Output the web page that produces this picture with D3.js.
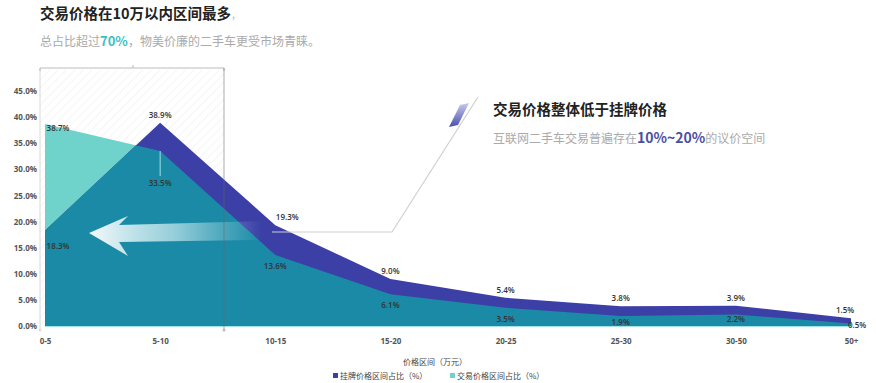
<!DOCTYPE html>
<html><head><meta charset="utf-8">
<script src="https://cdn.jsdelivr.net/npm/d3@7/dist/d3.min.js"></script>
<style>
html,body{margin:0;padding:0;background:#fff;}
svg{display:block;font-family:"Noto Sans CJK SC","Noto Sans",sans-serif;}
</style></head>
<body>
<svg id="c" width="876" height="383"></svg>
<script>
const categories = ["0-5","5-10","10-15","15-20","20-25","25-30","30-50","50+"];
const listingPct = [18.3, 38.9, 19.3, 9.0, 5.4, 3.8, 3.9, 1.5];
const dealPct    = [38.7, 33.5, 13.6, 6.1, 3.5, 1.9, 2.2, 0.5];
const yTicks = [0,5,10,15,20,25,30,35,40,45];
const seriesNames = ["挂牌价格区间占比（%）","交易价格区间占比（%）"];
const xAxisTitle = "价格区间（万元）";

const C_LIST = "#3b3fa6", C_DEAL = "#6fd3cb", C_OVER = "#1b8aa7";

const svg = d3.select("#c");
const defs = svg.append("defs");

const x = d3.scalePoint().domain(categories).range([45, 851]);
const y = d3.scaleLinear().domain([0,45]).range([326, 91]);

// hatch pattern
const pat = defs.append("pattern").attr("id","hatch").attr("patternUnits","userSpaceOnUse")
  .attr("width",6).attr("height",6).attr("patternTransform","rotate(45)");
pat.append("line").attr("x1",0).attr("y1",0).attr("x2",0).attr("y2",6).attr("stroke","#ececec").attr("stroke-width",1);

// gradients
const gArrow = defs.append("linearGradient").attr("id","gArrow").attr("x1","0").attr("x2","1").attr("y1","0").attr("y2","0");
gArrow.append("stop").attr("offset","0").attr("stop-color","#ffffff").attr("stop-opacity",0.95);
gArrow.append("stop").attr("offset","0.5").attr("stop-color","#d6f2f4").attr("stop-opacity",0.65);
gArrow.append("stop").attr("offset","1").attr("stop-color","#bfeaf0").attr("stop-opacity",0);

const gLine = defs.append("linearGradient").attr("id","gLine").attr("x1","0").attr("x2","1");
gLine.append("stop").attr("offset","0").attr("stop-color","#e6e6e6").attr("stop-opacity",0.2);
gLine.append("stop").attr("offset","0.5").attr("stop-color","#dcdcdc").attr("stop-opacity",1);
gLine.append("stop").attr("offset","1").attr("stop-color","#e6e6e6").attr("stop-opacity",0.6);

const gPara = defs.append("linearGradient").attr("id","gPara").attr("x1","0").attr("x2","0").attr("y1","0").attr("y2","1");
gPara.append("stop").attr("offset","0").attr("stop-color","#c9cbea");
gPara.append("stop").attr("offset","1").attr("stop-color","#4a4fb0");

// hatched highlight region 0-10
svg.append("rect").attr("x",40).attr("y",70).attr("width",184).attr("height",256).attr("fill","url(#hatch)");

// areas
const areaL = d3.area().x((d,i)=>x(categories[i])).y0(y(0)).y1(d=>y(d));
svg.append("path").datum(dealPct).attr("d",areaL).attr("fill",C_DEAL);
svg.append("path").datum(listingPct).attr("d",areaL).attr("fill",C_LIST);
defs.append("clipPath").attr("id","clipList").append("path").datum(listingPct).attr("d",areaL);
svg.append("path").datum(dealPct).attr("d",areaL).attr("fill",C_OVER).attr("clip-path","url(#clipList)");
// baseline
svg.append("line").attr("x1",x(categories[0])).attr("x2",x(categories[categories.length-1]))
  .attr("y1",y(0)+0.5).attr("y2",y(0)+0.5).attr("stroke","#9fe3e6").attr("stroke-width",1);

// arrow
svg.append("path").attr("d","M89,233 L128,216 L119,225 L262,221 L262,240 L119,242 L128,256 Z")
  .attr("fill","url(#gArrow)");

// y axis
const yAxis = svg.append("g").attr("transform","translate(40,0)")
  .call(d3.axisLeft(y).tickValues(yTicks).tickSize(0).tickPadding(3).tickFormat(d=>d.toFixed(1)+"%"));
yAxis.select(".domain").remove();
yAxis.selectAll("text").attr("font-size",8).attr("font-weight","bold").attr("fill","#555").attr("font-family","'Open Sans',sans-serif");
svg.append("line").attr("x1",40).attr("x2",40).attr("y1",68).attr("y2",330).attr("stroke","#d8d8d8");

// bracket
svg.append("path").attr("d","M40,71 L40,68 L224,68 L224,71").attr("fill","none").attr("stroke","#bbb");
svg.append("line").attr("x1",133).attr("x2",133).attr("y1",65).attr("y2",68).attr("stroke","#bbb");
svg.append("line").attr("x1",224).attr("x2",224).attr("y1",68).attr("y2",330).attr("stroke","#666").attr("stroke-opacity",0.55);
svg.append("circle").attr("cx",224).attr("cy",330).attr("r",1.5).attr("fill","#bbb");
svg.append("circle").attr("cx",40).attr("cy",330).attr("r",1.5).attr("fill","#ddd");

// x axis
const xAxis = svg.append("g").attr("transform","translate(0,335)")
  .call(d3.axisBottom(x).tickSize(0).tickPadding(3));
xAxis.select(".domain").remove();
xAxis.selectAll("text").attr("font-size",8).attr("font-weight","bold").attr("fill","#555").attr("font-family","'Open Sans',sans-serif");

// data labels
const lblStyle = s => s.attr("font-size",8).attr("font-weight",600).attr("fill","#333").attr("text-anchor","middle").attr("font-family","'Open Sans',sans-serif");
const last = categories.length-1;
listingPct.forEach((v,i)=>{
  const below = v < dealPct[i];
  svg.append("text").attr("x",x(categories[i]) + (i===0?13:(i===last?-6:(i===2?12:0))))
    .attr("y",y(v) + (below?19:-5)).text(v.toFixed(1)+"%").call(lblStyle);
});
dealPct.forEach((v,i)=>{
  const above = v > listingPct[i];
  const lead = (!above && i===1);
  let ty = y(v) + (lead ? 35 : (above ? 7 : 14));
  if (!lead && !above) ty = Math.min(ty, y(0) - 1 - (i===last ? -3 : 0));
  if (i===last - 1) ty = y(v) + 7;
  if (lead) {
    svg.append("line").attr("x1",x(categories[i])).attr("x2",x(categories[i])).attr("y1",y(v)).attr("y2",y(v)+25)
      .attr("stroke","#9fe0e0").attr("stroke-width",1);
  }
  svg.append("text").attr("x",x(categories[i]) + (i===0?13:(i===last?6:0)))
    .attr("y",ty).text(v.toFixed(1)+"%").call(lblStyle);
});

// titles
const t1 = svg.append("text").attr("x",40).attr("y",19).attr("font-size",14.5).attr("font-weight","bold").attr("fill","#222");
t1.append("tspan").text("交易价格在10万以内区间最多");
t1.append("tspan").text("，").attr("fill","#bbb").attr("font-weight","normal").attr("font-size",10);
const t2 = svg.append("text").attr("x",40).attr("y",46).attr("font-size",12).attr("fill","#aaa");
t2.append("tspan").text("总占比超过");
t2.append("tspan").text("70%").attr("fill","#3cc0c2").attr("font-weight","bold").attr("font-size",13);
t2.append("tspan").text("，物美价廉的二手车更受市场青睐。");
svg.append("line").attr("x1",230).attr("x2",365).attr("y1",62).attr("y2",62).attr("stroke","url(#gLine)").attr("stroke-width",1.5);

// callout
svg.append("path").attr("d","M272,232 L392,232 L478,97").attr("fill","none").attr("stroke","#cfcfcf").attr("stroke-width",1.2);
svg.append("path").attr("d","M460,105 L469,103 L458,125 L449,127 Z").attr("fill","url(#gPara)");
svg.append("text").attr("x",493).attr("y",115).attr("font-size",14.5).attr("font-weight","bold").attr("fill","#222").text("交易价格整体低于挂牌价格");
const t3 = svg.append("text").attr("x",493).attr("y",143).attr("font-size",12).attr("fill","#aaa");
t3.append("tspan").text("互联网二手车交易普遍存在");
t3.append("tspan").text("10%~20%").attr("fill","#4a4fa3").attr("font-weight","bold").attr("font-size",14);
t3.append("tspan").text("的议价空间");
svg.append("line").attr("x1",580).attr("x2",793).attr("y1",158).attr("y2",158).attr("stroke","url(#gLine)").attr("stroke-width",2);

// legend
svg.append("text").attr("x",435).attr("y",365).attr("text-anchor","middle").attr("font-size",8).attr("fill","#444").text(xAxisTitle);
const legColors = [C_LIST, C_DEAL];
const legX = [333, 450];
seriesNames.forEach((n,i)=>{
  svg.append("rect").attr("x",legX[i]).attr("y",373).attr("width",5).attr("height",5).attr("fill",legColors[i]);
  svg.append("text").attr("x",legX[i]+7).attr("y",379).attr("font-size",8).attr("fill","#444").text(n);
});
</script>
</body></html>
